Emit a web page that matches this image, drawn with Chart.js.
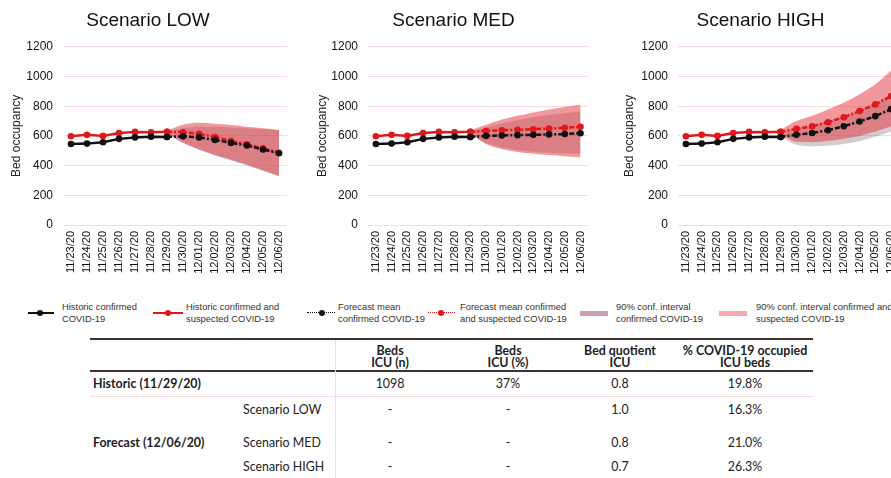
<!DOCTYPE html>
<html>
<head>
<meta charset="utf-8">
<script src="https://cdn.jsdelivr.net/npm/chart.js@4.4.0/dist/chart.umd.min.js"></script>
<style>
  body { margin: 0; width: 891px; height: 478px; overflow: hidden; background: #fff; position: relative; }
  canvas { position: absolute; top: 0; }
  .lg { position: absolute; font-family: "Liberation Sans", Arial, sans-serif; font-size: 9.4px; line-height: 12px; color: #333; top: 301px; white-space: nowrap; }
  .sw { position: absolute; }
  .tb { position: absolute; font-family: Lato, "Open Sans", sans-serif; font-size: 12.4px; line-height: 12px; color: #222; white-space: nowrap; }
  .c { transform: translate(-50%, -50%); text-align: center; }
  .l { transform: translate(0, -50%); }
  .b { font-weight: bold; }
  .rule { position: absolute; }
</style>
</head>
<body>
<canvas id="cLow" width="300" height="290" style="left:0px"></canvas>
<canvas id="cMed" width="300" height="290" style="left:300px"></canvas>
<canvas id="cHigh" width="320" height="290" style="left:600px"></canvas>

<!-- legend -->
<div class="sw" style="left:28px;top:312px;width:26px;height:2px;background:#111"></div>
<div class="sw" style="left:37px;top:310px;width:6px;height:6px;border-radius:50%;background:#111"></div>
<div class="lg" style="left:62px">Historic confirmed<br>COVID-19</div>

<div class="sw" style="left:153px;top:312px;width:30px;height:2px;background:#e3161c"></div>
<div class="sw" style="left:165px;top:310px;width:6px;height:6px;border-radius:50%;background:#e3161c"></div>
<div class="lg" style="left:186px">Historic confirmed and<br>suspected COVID-19</div>

<div class="sw" style="left:307px;top:312px;width:28px;height:0;border-top:1px dotted #111"></div>
<div class="sw" style="left:319px;top:310px;width:6px;height:6px;border-radius:50%;background:#111"></div>
<div class="lg" style="left:338px">Forecast mean<br>confirmed COVID-19</div>

<div class="sw" style="left:428px;top:312px;width:27px;height:0;border-top:1px dotted #e3161c"></div>
<div class="sw" style="left:438px;top:310px;width:6px;height:6px;border-radius:50%;background:#e3161c"></div>
<div class="lg" style="left:460px">Forecast mean confirmed<br>and suspected COVID-19</div>

<div class="sw" style="left:580px;top:311px;width:28px;height:5px;background:#c8a3a9"></div>
<div class="lg" style="left:616px">90% conf. interval<br>confirmed COVID-19</div>

<div class="sw" style="left:719px;top:311px;width:28px;height:5px;background:#f7a9af"></div>
<div class="lg" style="left:756px">90% conf. interval confirmed and<br>suspected COVID-19</div>

<!-- table -->
<div class="rule" style="left:90px;top:338px;width:723px;height:2px;background:#3a3233"></div>
<div class="rule" style="left:90px;top:370px;width:723px;height:2px;background:#3a3233"></div>
<div class="rule" style="left:90px;top:396px;width:723px;height:1px;background:#f4dcdd"></div>
<div class="rule" style="left:335px;top:340px;width:1px;height:138px;background:#f3dadb"></div>

<div class="tb c b" style="left:390px;top:357px">Beds<br>ICU (n)</div>
<div class="tb c b" style="left:508px;top:357px">Beds<br>ICU (%)</div>
<div class="tb c b" style="left:620px;top:357px">Bed quotient<br>ICU</div>
<div class="tb c b" style="left:745px;top:357px">% COVID-19 occupied<br>ICU beds</div>

<div class="tb l b" style="left:93px;top:384px">Historic (11/29/20)</div>
<div class="tb l b" style="left:93px;top:443px">Forecast (12/06/20)</div>
<div class="tb l" style="left:243px;top:410px">Scenario LOW</div>
<div class="tb l" style="left:243px;top:443px">Scenario MED</div>
<div class="tb l" style="left:243px;top:467px">Scenario HIGH</div>

<div id="tcells"></div>

<script>
// x categories
const dates = ['11/23/20', '11/24/20', '11/25/20', '11/26/20', '11/27/20', '11/28/20', '11/29/20',
               '11/30/20', '12/01/20', '12/02/20', '12/03/20', '12/04/20', '12/05/20', '12/06/20'];
const yTicks = [0, 200, 400, 600, 800, 1000, 1200];

// historic 11/23 .. 11/29
const histConf = [545, 548, 557, 580, 590, 595, 593];
const histSusp = [598, 607, 600, 620, 627, 625, 628];

// forecasts 11/29 .. 12/06
const lowMeanConf  = [593, 597, 590, 573, 553, 535, 508, 483];
const lowMeanSusp  = [628, 625, 614, 593, 566, 543, 516, 487];
const lowSuspUpper = [636, 675, 688, 682, 673, 662, 652, 640];
const lowSuspLower = [618, 555, 510, 472, 440, 405, 368, 330];
const lowConfUpper = [630, 652, 662, 662, 657, 652, 646, 638];
const lowConfLower = [612, 552, 506, 468, 434, 400, 364, 326];

const medMeanConf  = [593, 600, 603, 605, 607, 610, 612, 618];
const medMeanSusp  = [628, 634, 638, 641, 645, 650, 655, 662];
const medSuspUpper = [636, 675, 710, 735, 758, 778, 795, 810];
const medSuspLower = [618, 545, 512, 492, 480, 471, 463, 455];
const medConfUpper = [628, 655, 685, 705, 725, 740, 752, 765];
const medConfLower = [608, 552, 522, 503, 493, 487, 483, 480];

const highMeanConf  = [593, 607, 620, 638, 665, 697, 733, 780];
const highMeanSusp  = [628, 647, 665, 692, 726, 767, 812, 868];
const highSuspUpper = [640, 700, 735, 778, 823, 880, 947, 1040];
const highSuspLower = [620, 560, 558, 565, 580, 600, 630, 665];
const highConfUpper = [615, 650, 670, 700, 735, 775, 820, 880];
const highConfLower = [595, 540, 530, 533, 545, 565, 595, 630];

// table
const colCenters = [390, 508, 620, 745];
const rowTops = [384, 410, 443, 467];
const bedsN = ['1098', '-', '-', '-'];
const bedsPct = ['37%', '-', '-', '-'];
const quotient = ['0.8', '1.0', '0.8', '0.7'];
const occupied = ['19.8%', '16.3%', '21.0%', '26.3%'];

const tc = document.getElementById('tcells');
[bedsN, bedsPct, quotient, occupied].forEach((col, ci) => {
  col.forEach((v, ri) => {
    const d = document.createElement('div');
    d.className = 'tb c';
    d.style.left = colCenters[ci] + 'px';
    d.style.top = rowTops[ri] + 'px';
    d.textContent = v;
    tc.appendChild(d);
  });
});

const RED = '#e3161c';
const BLACK = '#111111';
const hist = arr => arr.concat(Array(dates.length - arr.length).fill(null));
const fc = arr => Array(dates.length - arr.length).fill(null).concat(arr);

function makeChart(id, title, mc, ms, su, sl, cu, cl, padL, axisW, padR) {
  const lineDs = (label, data, color, dash, order) => ({
    label, data, borderColor: color, backgroundColor: color, borderWidth: 2.5,
    borderDash: dash, pointRadius: 3.3, pointBackgroundColor: color, pointBorderWidth: 0,
    tension: 0, fill: false, order
  });
  const bandDs = (label, data, color, fill, order) => ({
    label, data, borderWidth: 0, pointRadius: 0, backgroundColor: color,
    fill, tension: 0.4, cubicInterpolationMode: 'monotone', order
  });
  new Chart(document.getElementById(id), {
    type: 'line',
    data: {
      labels: dates,
      datasets: [
        lineDs('Historic confirmed COVID-19', hist(histConf), BLACK, [], 0),
        lineDs('Historic confirmed and suspected COVID-19', hist(histSusp), RED, [], 1),
        lineDs('Forecast mean confirmed COVID-19', fc(mc), BLACK, [5, 2, 2, 2], 2),
        lineDs('Forecast mean confirmed and suspected COVID-19', fc(ms), RED, [5, 2, 2, 2], 3),
        bandDs('90% conf. interval confirmed and suspected COVID-19', fc(su), 'rgba(228,58,68,0.52)', '+1', 10),
        bandDs('susp lower', fc(sl), 'rgba(0,0,0,0)', false, 10),
        bandDs('90% conf. interval confirmed COVID-19', fc(cu), 'rgba(120,95,95,0.32)', '+1', 11),
        bandDs('conf lower', fc(cl), 'rgba(0,0,0,0)', false, 11)
      ]
    },
    options: {
      responsive: false,
      animation: false,
      devicePixelRatio: 1,
      layout: { padding: { left: padL, right: padR, top: 0, bottom: 0 } },
      plugins: {
        legend: { display: false },
        tooltip: { enabled: false },
        title: {
          display: true, text: title, color: '#111',
          font: { family: 'Liberation Sans', size: 19, weight: 'normal' },
          padding: { top: 9, bottom: 15 }
        }
      },
      scales: {
        x: {
          offset: true,
          grid: { display: false, drawTicks: false },
          border: { display: false },
          ticks: {
            autoSkip: false, maxRotation: 90, minRotation: 90, padding: 6,
            color: '#111', font: { family: 'Liberation Sans', size: 11 }
          },
          afterFit: s => { s.height = 65; }
        },
        y: {
          min: 0, max: 1200,
          afterBuildTicks: s => { s.ticks = yTicks.map(v => ({ value: v })); },
          grid: { color: '#fbd9d9', lineWidth: 1, drawTicks: false },
          border: { display: false },
          ticks: {
            padding: 10, color: '#111', font: { family: 'Liberation Sans', size: 12 },
            callback: v => String(v)
          },
          title: {
            display: true, text: 'Bed occupancy', color: '#222',
            font: { family: 'Liberation Sans', size: 12 }, padding: 0
          },
          afterFit: s => { s.width = axisW; }
        }
      }
    }
  });
}

makeChart('cLow', 'Scenario LOW', lowMeanConf, lowMeanSusp, lowSuspUpper, lowSuspLower, lowConfUpper, lowConfLower, 9, 54, 13);
makeChart('cMed', 'Scenario MED', medMeanConf, medMeanSusp, medSuspUpper, medSuspLower, medConfUpper, medConfLower, 15, 53, 8);
makeChart('cHigh', 'Scenario HIGH', highMeanConf, highMeanSusp, highSuspUpper, highSuspLower, highConfUpper, highConfLower, 22, 56, 21);
</script>
</body>
</html>
